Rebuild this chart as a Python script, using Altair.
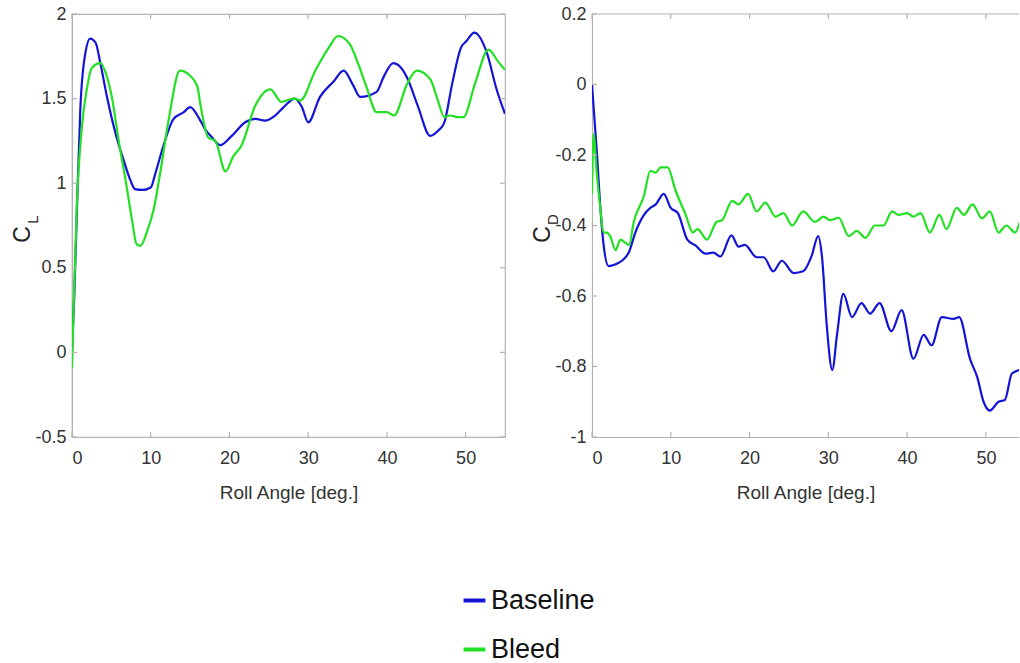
import altair as alt
import pandas as pd

# ---------------- data ----------------
series_names = ["Baseline", "Bleed"]
series_colors = ["#1414d8", "#22e022"]

roll_cl_base = [0, 0.3, 0.63, 1.06, 1.7, 2.3, 3.0, 3.6, 4.4, 5.5, 6.6, 7.4, 8.0, 8.9, 10.0, 10.6,
                11.6, 12.9, 14.2, 15.0, 16.3, 16.9, 17.8, 18.8, 20.3, 22.0, 23.3, 24.5, 25.8, 26.9,
                28.3, 29.2, 30.0, 31.5, 33.2, 34.5, 35.7, 36.6, 38.7, 39.6, 40.8, 42.0, 42.6, 43.9,
                45.5, 46.5, 47.3, 48.3, 49.4, 50.1, 51.1, 52.7, 53.9, 55.0]
cl_base = [0.0, 0.35, 0.85, 1.44, 1.77, 1.855, 1.83, 1.71, 1.52, 1.30, 1.13, 1.02, 0.965, 0.96,
           0.975, 1.06, 1.22, 1.38, 1.42, 1.45, 1.37, 1.32, 1.27, 1.225, 1.28, 1.36, 1.38, 1.37,
           1.40, 1.45, 1.50, 1.45, 1.36, 1.51, 1.60, 1.665, 1.58, 1.51, 1.54, 1.63, 1.71, 1.67,
           1.62, 1.46, 1.28, 1.31, 1.36, 1.59, 1.80, 1.84, 1.89, 1.77, 1.56, 1.41]

roll_cl_bleed = [0, 0.2, 0.63, 1.27, 1.9, 2.5, 3.6, 4.4, 5.1, 5.9, 6.8, 7.6, 8.2, 8.7, 9.5, 10.4,
                 11.2, 12.3, 13.7, 15.0, 15.9, 16.4, 17.3, 18.2, 19.5, 20.5, 21.5, 23.3, 25.2,
                 26.6, 28.1, 29.0, 30.9, 32.6, 33.8, 35.3, 36.4, 37.4, 38.7, 40.0, 40.9, 42.6,
                 43.8, 45.5, 46.4, 47.3, 48.0, 49.1, 49.7, 51.2, 52.9, 54.1, 55.0]
cl_bleed = [-0.09, 0.26, 0.89, 1.34, 1.56, 1.68, 1.71, 1.635, 1.50, 1.26, 1.02, 0.79, 0.64, 0.63,
            0.71, 0.85, 1.06, 1.38, 1.665, 1.635, 1.575, 1.44, 1.27, 1.25, 1.07, 1.16, 1.22, 1.46,
            1.555, 1.48, 1.50, 1.49, 1.665, 1.80, 1.87, 1.82, 1.70, 1.57, 1.42, 1.42, 1.40, 1.59,
            1.665, 1.615, 1.50, 1.39, 1.40, 1.39, 1.39, 1.59, 1.79, 1.72, 1.67]

roll_cd_base = [0, 0.64, 1.06, 1.5, 2.1, 3.0, 3.8, 4.7, 5.5, 6.6, 7.4, 8.1, 9.1, 10.0, 10.9, 12.1,
                13.1, 14.4, 15.4, 16.3, 17.7, 18.6, 19.4, 20.9, 21.8, 23.0, 24.1, 25.6, 26.8, 27.9,
                28.7, 29.2, 29.8, 30.5, 31.1, 31.9, 33.0, 34.2, 35.3, 36.5, 38.0, 39.3, 40.8, 42.1,
                43.1, 44.4, 45.9, 46.6, 48.0, 48.9, 49.7, 50.5, 51.6, 52.4, 53.3, 54.3]
cd_base = [0.0, -0.2, -0.35, -0.46, -0.515, -0.51, -0.50, -0.475, -0.42, -0.37, -0.35, -0.34,
           -0.31, -0.35, -0.365, -0.44, -0.456, -0.48, -0.477, -0.488, -0.428, -0.46, -0.455,
           -0.49, -0.49, -0.53, -0.50, -0.535, -0.53, -0.485, -0.43, -0.49, -0.684, -0.81, -0.71,
           -0.594, -0.66, -0.62, -0.65, -0.62, -0.70, -0.64, -0.778, -0.71, -0.74, -0.66, -0.665,
           -0.66, -0.78, -0.83, -0.90, -0.925, -0.90, -0.895, -0.82, -0.81]

roll_cd_bleed = [0, 0.2, 0.6, 1.0, 1.5, 1.9, 2.3, 3.0, 3.6, 4.3, 4.7, 5.3, 6.6, 7.4, 8.1, 8.7, 9.6,
                 10.6, 11.9, 12.8, 13.4, 14.6, 15.8, 16.5, 17.8, 18.6, 19.8, 20.9, 22.0, 23.3,
                 24.3, 25.4, 26.8, 28.3, 29.4, 30.2, 31.3, 32.6, 33.6, 34.7, 35.9, 37.0, 38.1,
                 38.9, 40.0, 40.8, 41.7, 42.9, 44.1, 45.0, 46.3, 47.2, 48.3, 49.5, 50.5, 51.6,
                 52.6, 53.7, 54.3]
cd_bleed = [-0.31, -0.14, -0.25, -0.34, -0.42, -0.42, -0.43, -0.47, -0.44, -0.45, -0.455, -0.39,
            -0.315, -0.245, -0.25, -0.235, -0.235, -0.30, -0.37, -0.42, -0.41, -0.44, -0.39,
            -0.385, -0.33, -0.34, -0.31, -0.36, -0.335, -0.375, -0.365, -0.40, -0.36, -0.39,
            -0.375, -0.385, -0.378, -0.43, -0.415, -0.435, -0.40, -0.40, -0.36, -0.37, -0.365,
            -0.375, -0.365, -0.42, -0.37, -0.41, -0.35, -0.37, -0.34, -0.38, -0.36, -0.42, -0.40,
            -0.42, -0.39]

x_ticks = [0, 10, 20, 30, 40, 50]
cl_ticks = [-0.5, 0, 0.5, 1, 1.5, 2]
cd_ticks = [-1, -0.8, -0.6, -0.4, -0.2, 0, 0.2]
x_title = "Roll Angle [deg.]"

# ---------------- styling ----------------
FONT = "Liberation Sans Narrow, Arial Narrow, Liberation Sans, Arial"
AXIS_GRAY = "#b4b4b4"
W1, W2, H = 433, 427, 423
TICK = 5


def long_df(xs, ys, name):
    return pd.DataFrame({"roll": xs, "val": ys, "series": name})


cl_df = pd.concat([long_df(roll_cl_base, cl_base, series_names[0]),
                   long_df(roll_cl_bleed, cl_bleed, series_names[1])])
cd_df = pd.concat([long_df(roll_cd_base, cd_base, series_names[0]),
                   long_df(roll_cd_bleed, cd_bleed, series_names[1])])

color = alt.Color(
    "series:N",
    scale=alt.Scale(domain=series_names, range=series_colors),
    legend=alt.Legend(
        orient="none", legendX=389, legendY=573, title=None,
        symbolType="stroke", symbolStrokeWidth=4, symbolSize=480,
        labelFont=FONT, labelFontSize=27, labelColor="#111",
        rowPadding=21, labelOffset=3, symbolOffset=0, padding=0,
    ),
)


def panel(df, xdom, ydom, yticks, width, sub, full_box):
    xs = alt.Scale(domain=xdom, nice=False, zero=False)
    ys = alt.Scale(domain=ydom, nice=False, zero=False)
    lines = alt.Chart(df).mark_line(strokeWidth=2.2, interpolate="monotone", clip=True).encode(
        x=alt.X("roll:Q", scale=xs,
                axis=alt.Axis(values=x_ticks, ticks=False, tickSize=0, grid=False,
                              domainColor=AXIS_GRAY, domainWidth=1.2,
                              labelFont=FONT, labelFontSize=18, labelColor="#333",
                              labelPadding=12, title=x_title, titleFont=FONT,
                              titleFontSize=19, titleFontWeight="normal",
                              titleColor="#333", titlePadding=16)),
        y=alt.Y("val:Q", scale=ys,
                axis=alt.Axis(values=yticks, ticks=False, tickSize=0, grid=False,
                              domainColor=AXIS_GRAY, domainWidth=1.2,
                              labelFont=FONT, labelFontSize=18, labelColor="#333",
                              labelPadding=6, labelExpr="'' + datum.value", title=None)),
        color=color,
        order=alt.Order("roll:Q"),
    )
    xt = pd.DataFrame({"t": x_ticks})
    yt = pd.DataFrame({"t": yticks})
    tick_style = dict(color=AXIS_GRAY, strokeWidth=1.2)
    bottom = alt.Chart(xt).mark_rule(**tick_style).encode(
        x=alt.X("t:Q", scale=xs), y=alt.value(H), y2=alt.value(H - TICK))
    top = alt.Chart(xt).mark_rule(**tick_style).encode(
        x=alt.X("t:Q", scale=xs), y=alt.value(0), y2=alt.value(TICK))
    left = alt.Chart(yt).mark_rule(**tick_style).encode(
        y=alt.Y("t:Q", scale=ys), x=alt.value(0), x2=alt.value(TICK))
    layers = [bottom, top, left]
    if full_box:
        right = alt.Chart(yt).mark_rule(**tick_style).encode(
            y=alt.Y("t:Q", scale=ys), x=alt.value(width - TICK), x2=alt.value(width))
        layers.append(right)
    else:
        topline = alt.Chart(xt.head(1)).mark_rule(**tick_style).encode(
            x=alt.value(0), x2=alt.value(width), y=alt.value(0))
        layers.append(topline)
    lab = pd.DataFrame({"c": ["C"], "s": [sub]})
    ctext = alt.Chart(lab).mark_text(angle=270, font=FONT, fontSize=23, color="#222").encode(
        text="c:N", x=alt.value(-49), y=alt.value(H / 2 + 9))
    stext = alt.Chart(lab).mark_text(angle=270, font=FONT, fontSize=15, color="#222").encode(
        text="s:N", x=alt.value(-39), y=alt.value(H / 2 - 6))
    layers += [ctext, stext]
    view = alt.ViewBackground(stroke=AXIS_GRAY, strokeWidth=1.2) if full_box else alt.ViewBackground(stroke=None)
    return alt.layer(lines, *layers).properties(width=width, height=H, view=view)


cl_panel = panel(cl_df, [0, 55], [-0.5, 2], cl_ticks, W1, "L", True)
cd_panel = panel(cd_df, [0, 54.2], [-1, 0.2], cd_ticks, W2, "D", False)

chart = alt.hconcat(cl_panel, cd_panel, spacing=87, bounds="flush").properties(
    padding={"left": 11, "top": 4, "right": 0, "bottom": 0},
    background="white",
).configure_view(stroke=None)

chart.save("out.html", embed_options={"renderer": "svg", "actions": False})
